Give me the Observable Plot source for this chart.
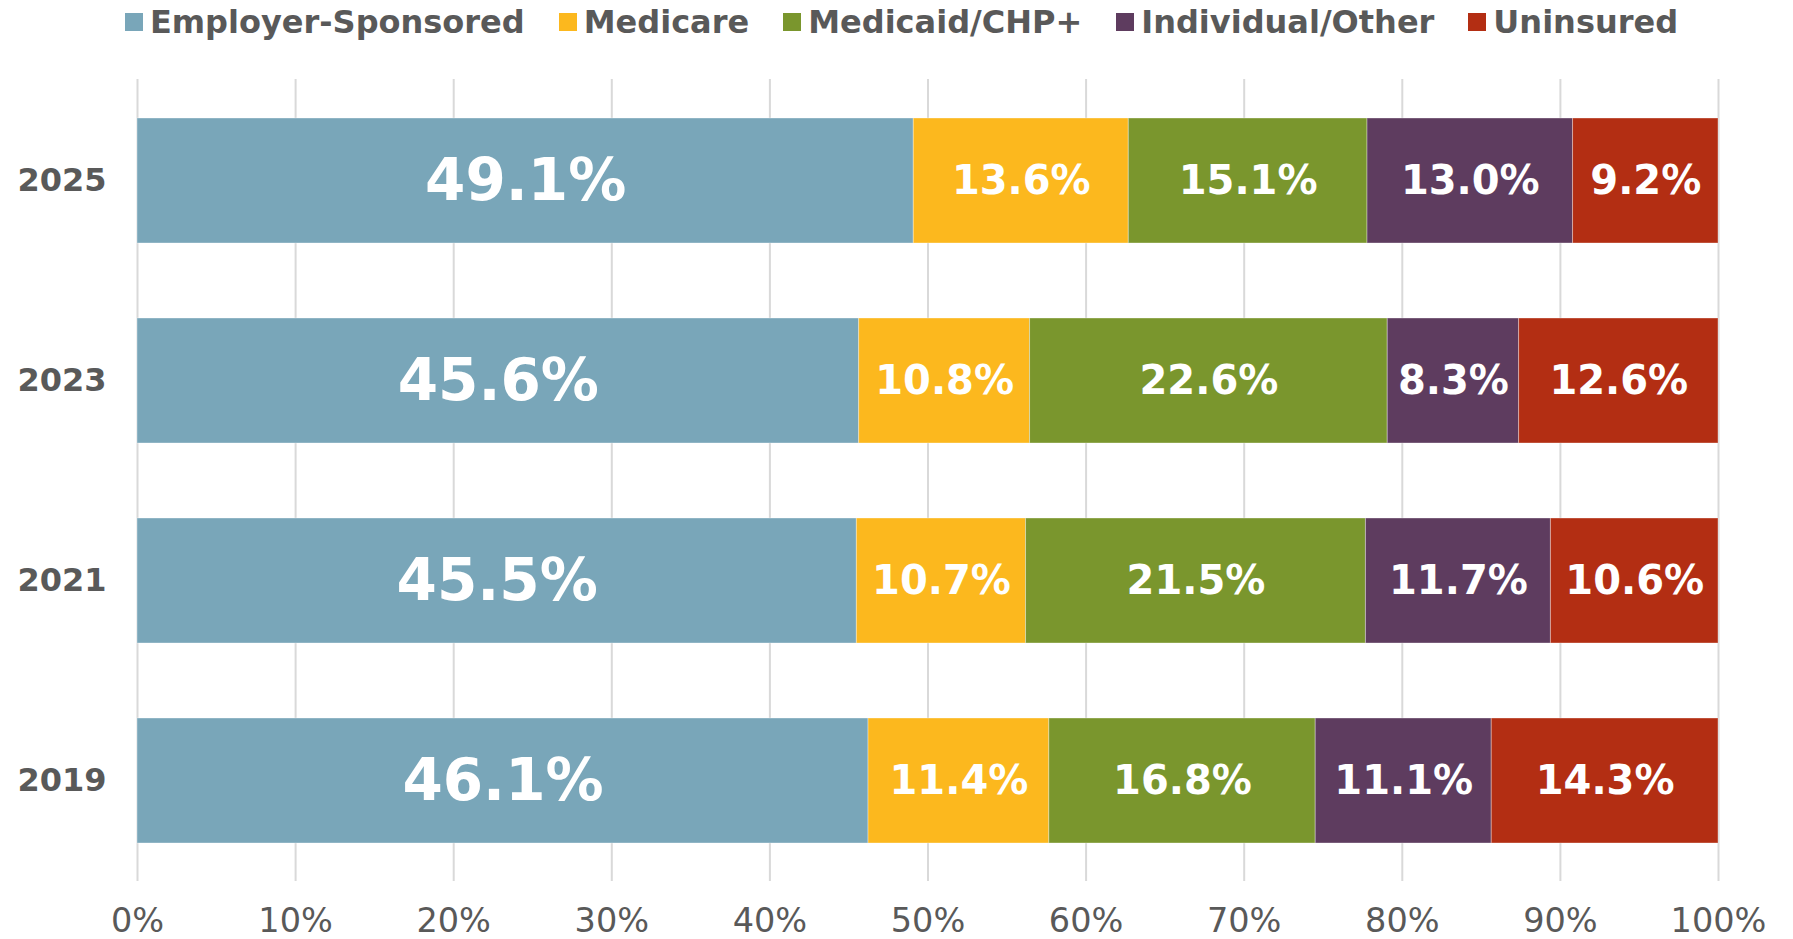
<!DOCTYPE html>
<html>
<head>
<meta charset="utf-8">
<script src="https://cdn.jsdelivr.net/npm/d3@7"></script>
<script src="https://cdn.jsdelivr.net/npm/@observablehq/plot@0.6"></script>
<style>
  html, body { margin: 0; padding: 0; background: #fff; }
  #legend {
    height: 44px; display: flex; justify-content: center; align-items: center;
    gap: 34px; padding-left: 10px; box-sizing: border-box;
    font-family: "DejaVu Sans", Verdana, sans-serif; font-weight: bold;
    font-size: 32px; color: #595959;
  }
  .item { display: flex; align-items: center; gap: 7px; white-space: nowrap; }
  .sw { width: 18px; height: 18px; display: inline-block; }
</style>
</head>
<body>
<div id="legend"></div>
<div id="chart"></div>
<script>
const years = ["2025", "2023", "2021", "2019"];
const categories = ["Employer-Sponsored", "Medicare", "Medicaid/CHP+", "Individual/Other", "Uninsured"];
const colors = ["#79a6b9", "#fcb81e", "#7a962d", "#5e3c5f", "#b32e13"];
const employer   = [49.1, 45.6, 45.5, 46.1];
const medicare   = [13.6, 10.8, 10.7, 11.4];
const medicaid   = [15.1, 22.6, 21.5, 16.8];
const individual = [13.0, 8.3, 11.7, 11.1];
const uninsured  = [9.2, 12.6, 10.6, 14.3];
const xTicks = [0, 0.1, 0.2, 0.3, 0.4, 0.5, 0.6, 0.7, 0.8, 0.9, 1.0];

const series = [employer, medicare, medicaid, individual, uninsured];
const data = [];
years.forEach((y, i) => {
  categories.forEach((c, j) => data.push({year: y, cat: c, value: series[j][i]}));
});

// legend
const legend = document.getElementById("legend");
categories.forEach((c, j) => {
  const it = document.createElement("div");
  it.className = "item";
  const sw = document.createElement("span");
  sw.className = "sw";
  sw.style.background = colors[j];
  const t = document.createElement("span");
  t.textContent = c;
  it.appendChild(sw); it.appendChild(t);
  legend.appendChild(it);
});

const stackOpts = {x: "value", y: "year", z: "cat", offset: "normalize", order: categories};

const chart = Plot.plot({
  width: 1793,
  height: 895,
  marginLeft: 137,
  marginRight: 75,
  marginTop: 35,
  marginBottom: 58,
  style: {fontFamily: "'DejaVu Sans', Verdana, sans-serif", color: "#595959", background: "#fff"},
  x: {domain: [0, 1], ticks: xTicks, tickFormat: d3.format(".0%"), label: null},
  y: {domain: years, label: null, paddingInner: 0.377, paddingOuter: 0.19},
  color: {domain: categories, range: colors},
  marks: [
    Plot.gridX(xTicks, {stroke: "#d9d9d9", strokeOpacity: 1, strokeWidth: 2}),
    Plot.barX(data, Plot.stackX({...stackOpts, fill: "cat", stroke: "#ffffff", strokeOpacity: 0.35, strokeWidth: 1})),
    Plot.text(data, Plot.stackX({
      ...stackOpts,
      text: d => d.value.toFixed(1) + "%",
      fill: "white",
      fontWeight: "bold",
      fontSize: d => d.cat === "Employer-Sponsored" ? 58 : 40
    })),
    Plot.axisX({ticks: xTicks, tickFormat: d3.format(".0%"), tickSize: 0, tickPadding: 27, fontSize: 33.5, fill: "#595959", label: null}),
    Plot.axisY({tickSize: 0, tickPadding: 31, fontSize: 32, fontWeight: "bold", fill: "#595959", label: null})
  ]
});
document.getElementById("chart").appendChild(chart);
</script>
</body>
</html>
